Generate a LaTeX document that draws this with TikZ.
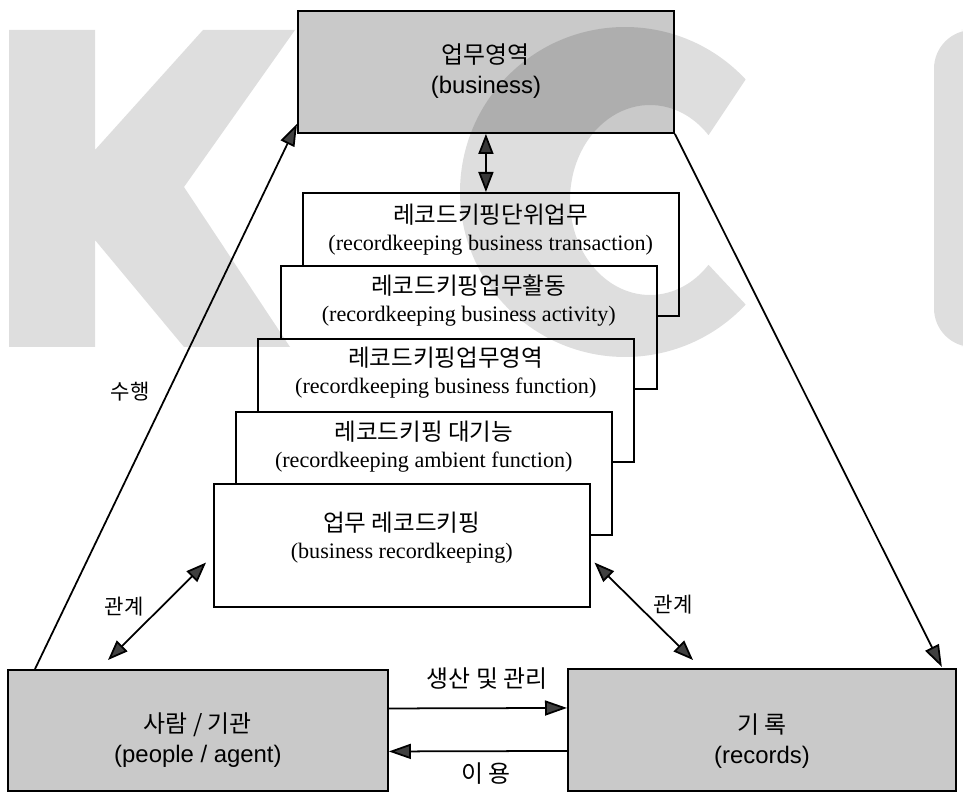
\documentclass[tikz,border=0pt]{standalone}
\usepackage{fontspec}
\setmainfont{Liberation Serif}
\newfontfamily\kr{Noto Sans CJK KR}
\newfontfamily\sansen{Liberation Sans}
\usetikzlibrary{arrows.meta,calc,positioning}

\tikzset{
  graybox/.style={draw, line width=1.1pt, fill=black!21, anchor=north west, inner sep=0pt},
  stackbox/.style={draw, line width=0.9pt, fill=white, anchor=north west, inner sep=0pt,
    minimum width=7.52cm, minimum height=2.46cm},
  stacktext/.style={align=center, inner sep=0pt, font=\fontsize{12.6}{15.4}\selectfont},
  graytext/.style={align=center, inner sep=0pt, font=\fontsize{13.6}{17}\selectfont},
  lbl/.style={inner sep=1pt, font=\kr\fontsize{12}{14}\selectfont},
  arr/.style={line width=1pt, -{Triangle[length=0.44cm, width=0.3cm, fill=black!75]}},
  dblarr/.style={line width=1pt, {Triangle[length=0.4cm, width=0.3cm, fill=black!75]}-{Triangle[length=0.4cm, width=0.3cm, fill=black!75]}},
  wmark/.style={fill=black, fill opacity=0.13, draw=none}
}

\begin{document}
\begin{tikzpicture}[x=0.02cm, y=-0.02cm]
\useasboundingbox (0,0) rectangle (963,793);

% business
\node[graybox, minimum width=7.52cm, minimum height=2.44cm] (biz) at (297,10) {};
\node[graytext] (biztxt) at ($(biz.center)+(0,-1)$) {{\kr 업무영역}\\{\sansen (business)}};

% stacked recordkeeping boxes
\node[stackbox] (t1) at (302,192) {};
\node[stacktext] (t1txt) at ($(t1.north)+(0,38)$) {{\kr\fontsize{13.4}{15}\selectfont 레코드키핑단위업무}\\(recordkeeping business transaction)};
\node[stackbox] (t2) at (280,265) {};
\node[stacktext] (t2txt) at ($(t2.north)+(0,36)$) {{\kr\fontsize{13.4}{15}\selectfont 레코드키핑업무활동}\\(recordkeeping business activity)};
\node[stackbox] (t3) at (257,338) {};
\node[stacktext] (t3txt) at ($(t3.north)+(0,35)$) {{\kr\fontsize{13.4}{15}\selectfont 레코드키핑업무영역}\\(recordkeeping business function)};
\node[stackbox] (t4) at (235,411) {};
\node[stacktext] (t4txt) at ($(t4.north)+(0,36)$) {{\kr\fontsize{13.4}{15}\selectfont 레코드키핑 대기능}\\(recordkeeping ambient function)};
\node[stackbox] (t5) at (213,483) {};
\node[stacktext] (t5txt) at ($(t5.north)+(0,55)$) {{\kr\fontsize{13.4}{15}\selectfont 업무 레코드키핑}\\(business recordkeeping)};

% people / agent and records
\node[graybox, minimum width=7.6cm, minimum height=2.42cm] (agent) at (7,669) {};
\node[graytext] (agenttxt) at ($(agent.center)+(0,10)$) {{\kr 사람 / 기관}\\{\sansen (people / agent)}};
\node[graybox, minimum width=7.76cm, minimum height=2.44cm] (rec) at (567,668) {};
\node[graytext] (rectxt) at ($(rec.center)+(0,11)$) {{\kr 기 록}\\{\sansen (records)}};

% connectors
\draw[dblarr] (biz.south) -- (biz.south |- t1.north);
\draw[arr] ($(agent.north west)+(28,0)$) -- ($(biz.south west)+(0,-10)$);
\draw[arr] (biz.south east) -- ($(rec.north east)+(-15,-1)$);
\draw[dblarr] ($(agent.north west)+(101,-9)$) -- ($(t5.south west)+(-7,-45)$);
\draw[dblarr] ($(t5.south east)+(4,-45)$) -- ($(rec.north west)+(126,-8)$);
\draw[arr] ($(agent.east)+(0,-22)$) -- ($(rec.west)+(0,-22)$);
\draw[arr] ($(rec.west)+(0,21)$) -- ($(agent.east)+(0,21)$);

% labels
\node[lbl] (perform) at (130,392) {수행};
\node[lbl] (relL) at (124,607) {관계};
\node[lbl] (relR) at (673,605) {관계};
\node[lbl, font=\kr\fontsize{13.6}{15}\selectfont] (produce) at (487,679) {생산 및 관리};
\node[lbl, font=\kr\fontsize{13.6}{15}\selectfont] (use) at (486,774) {이 용};

% watermark
\fill[wmark] (9,30) -- (95,30) -- (95,150) -- (203,30) -- (295,30) -- (184,187)
  -- (290,347) -- (184,347) -- (95,240) -- (95,347) -- (9,347) -- cycle;
\fill[wmark] ($(625,192)+(-43:165)$) arc[start angle=-43, end angle=-317, radius=165]
  -- ($(650,200)+(43:80 and 95)$) arc[start angle=43, end angle=317, x radius=80, y radius=95] -- cycle;
\fill[wmark, rounded corners=22pt] (934,347) -- (934,30) -- (1000,30) -- (1000,347) -- cycle;
\end{tikzpicture}
\end{document}
